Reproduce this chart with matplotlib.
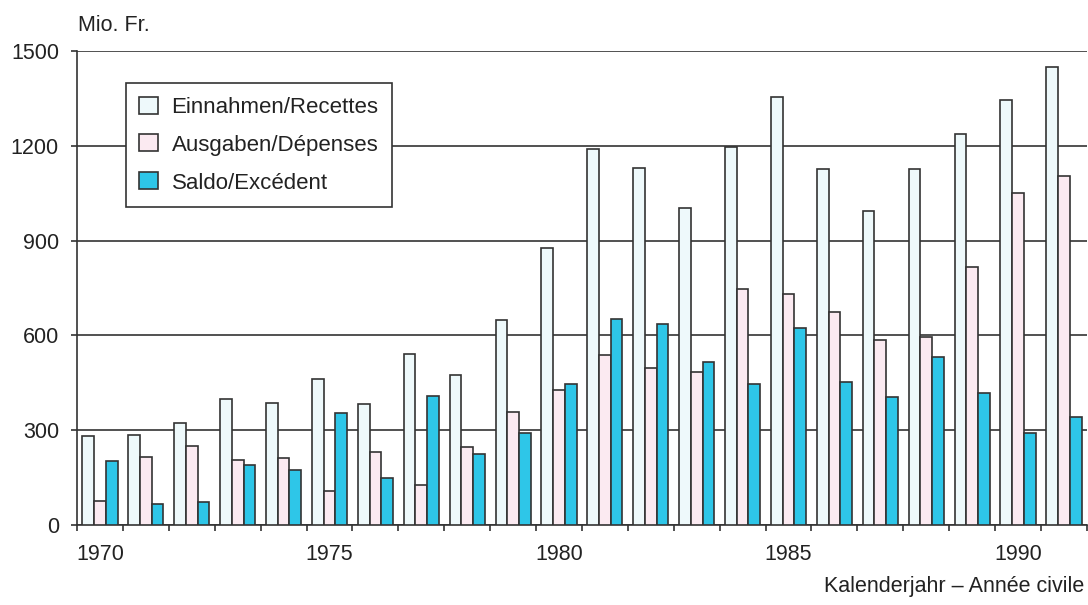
import numpy as np
import matplotlib.pyplot as plt

plt.rcParams['font.family'] = ['Liberation Sans', 'DejaVu Sans']

# --- Data (Mio. Fr.) ---
years = list(range(1970, 1992))
einnahmen = [283, 285, 324, 398, 386, 463, 382, 540, 474, 649, 876,
             1191, 1130, 1003, 1197, 1355, 1128, 994, 1126, 1236, 1345, 1448]
ausgaben = [77, 215, 250, 206, 211, 107, 230, 128, 247, 357, 428,
            537, 496, 483, 748, 731, 673, 586, 596, 817, 1052, 1104]
saldo = [203, 67, 72, 191, 173, 355, 150, 408, 225, 290, 446,
         653, 635, 517, 447, 623, 452, 405, 532, 417, 291, 341]

labels = ["Einnahmen/Recettes", "Ausgaben/Dépenses", "Saldo/Excédent"]
colors = ["#eef9fb", "#fbeaf1", "#2ec6e8"]
edge = "#333333"
txt = "#222222"
fs = 15.5

fig = plt.figure(figsize=(10.88, 6.05), dpi=100)
ax = fig.add_axes([0.0708, 0.1322, 0.9282, 0.7835])

x = np.array(years, dtype=float)
w = 0.255
for off, vals, c, lab in zip([-w, 0, w], [einnahmen, ausgaben, saldo], colors, labels):
    ax.bar(x + off, vals, width=w, color=c, edgecolor=edge, linewidth=1.2,
           label=lab, zorder=3)

ax.set_xlim(1969.5, 1991.5)
ax.set_ylim(0, 1500)

# boundaries between years as tick marks, labels at group centres
ax.set_xticks(np.arange(1969.5, 1992, 1.0))
ax.set_xticklabels([])
ax.tick_params(axis='x', which='major', direction='out', length=4, width=1.2, color=edge)
ax.set_xticks([1970, 1975, 1980, 1985, 1990], minor=True)
ax.set_xticklabels(["1970", "1975", "1980", "1985", "1990"], minor=True)
ax.tick_params(axis='x', which='minor', length=0, pad=14, labelsize=fs, labelcolor=txt)

ax.set_yticks([0, 300, 600, 900, 1200, 1500])
ax.tick_params(axis='y', direction='out', length=4, width=1.2, color=edge, pad=9,
               labelsize=fs, labelcolor=txt)

ax.grid(axis='y', color=edge, linewidth=1.2, zorder=0)
ax.set_axisbelow(True)
for s in ['top', 'right']:
    ax.spines[s].set_visible(False)
for s in ['left', 'bottom']:
    ax.spines[s].set_color(edge)
    ax.spines[s].set_linewidth(1.2)

leg = ax.legend(loc='upper left', bbox_to_anchor=(0.0485, 0.932), borderaxespad=0,
                fontsize=16, fancybox=False, framealpha=1, edgecolor=edge,
                handlelength=0.85, handleheight=0.8, labelspacing=0.75,
                borderpad=0.6, handletextpad=0.6)
leg.get_frame().set_linewidth(1.2)
for t in leg.get_texts():
    t.set_color(txt)

fig.text(0.0717, 0.958, "Mio. Fr.", fontsize=fs, color=txt, va='center', ha='left')
fig.text(0.997, 0.031, "Kalenderjahr – Année civile", fontsize=fs, color=txt,
         va='center', ha='right')

fig.savefig("out.png", dpi=100)
